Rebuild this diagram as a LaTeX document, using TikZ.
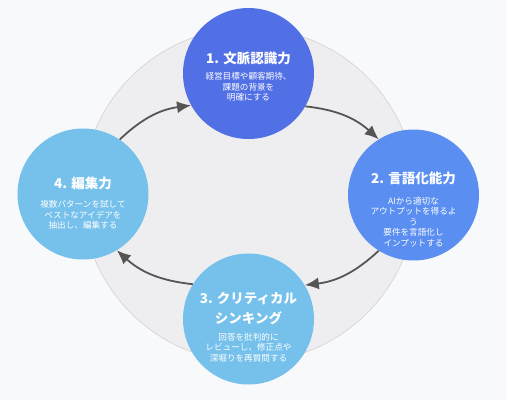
\documentclass[tikz,border=0pt]{standalone}
\usepackage{fontspec}
\newfontfamily\jp{Noto Sans CJK JP}
\usetikzlibrary{arrows.meta}
\definecolor{bgc}{RGB}{248,249,251}
\definecolor{ringfill}{RGB}{238,238,240}
\definecolor{ringline}{RGB}{216,216,218}
\definecolor{cone}{RGB}{82,112,230}
\definecolor{ctwo}{RGB}{90,143,241}
\definecolor{clight}{RGB}{117,193,235}
\definecolor{arr}{RGB}{85,85,85}
\tikzset{
  stage/.style={circle, minimum size=131pt, inner sep=0pt, draw=none},
  ttl/.style={text=white, font=\jp\bfseries\fontsize{13.5}{20}\selectfont, align=center, inner sep=0pt},
  body/.style={text=white, font=\jp\fontsize{8.6}{10.6}\selectfont, align=center, inner sep=0pt},
  flow/.style={draw=arr, line width=1.8pt, -{Latex[length=14pt,width=12pt]}, bend left=18}
}
\begin{document}
\begin{tikzpicture}[x=1pt,y=-1pt]
\fill[bgc] (0,0) rectangle (507,400);
\useasboundingbox (0,0) rectangle (507,400);
\node[circle, minimum size=334pt, inner sep=0pt, fill=ringfill, draw=ringline, line width=0.8pt] (ring) at (249,195) {};
\node[stage, fill=cone] (c1) at (248.5,73.5) {};
\node[stage, fill=ctwo] (c2) at (413.5,195) {};
\node[stage, fill=clight] (c3) at (248.5,319) {};
\node[stage, fill=clight] (c4) at (83,194) {};
\node[ttl] (t1) at (248.5,58) {1. 文脈認識力};
\node[body] (b1) at (248.5,87) {経営目標や顧客期待、\\課題の背景を\\明確にする};
\node[ttl] (t2) at (413.5,178) {2. 言語化能力};
\node[body] (b2) at (413.5,222) {AIから適切な\\アウトプットを得るよ\\う\\要件を言語化し\\インプットする};
\node[ttl] (t3) at (248.5,308) {3. クリティカル\\シンキング};
\node[body] (b3) at (248.5,347.5) {回答を批判的に\\レビューし、修正点や\\深堀りを再質問する};
\node[ttl] (t4) at (83,183) {4. 編集力};
\node[body] (b4) at (83,215) {複数パターンを試して\\ベストなアイデアを\\抽出し、編集する};
\draw[flow] (c4.56) to (c1.209);
\draw[flow] (c1.330) to (c2.122);
\draw[flow] (c2.238) to (c3.31);
\draw[flow] (c3.148) to (c4.301);
\end{tikzpicture}
\end{document}
